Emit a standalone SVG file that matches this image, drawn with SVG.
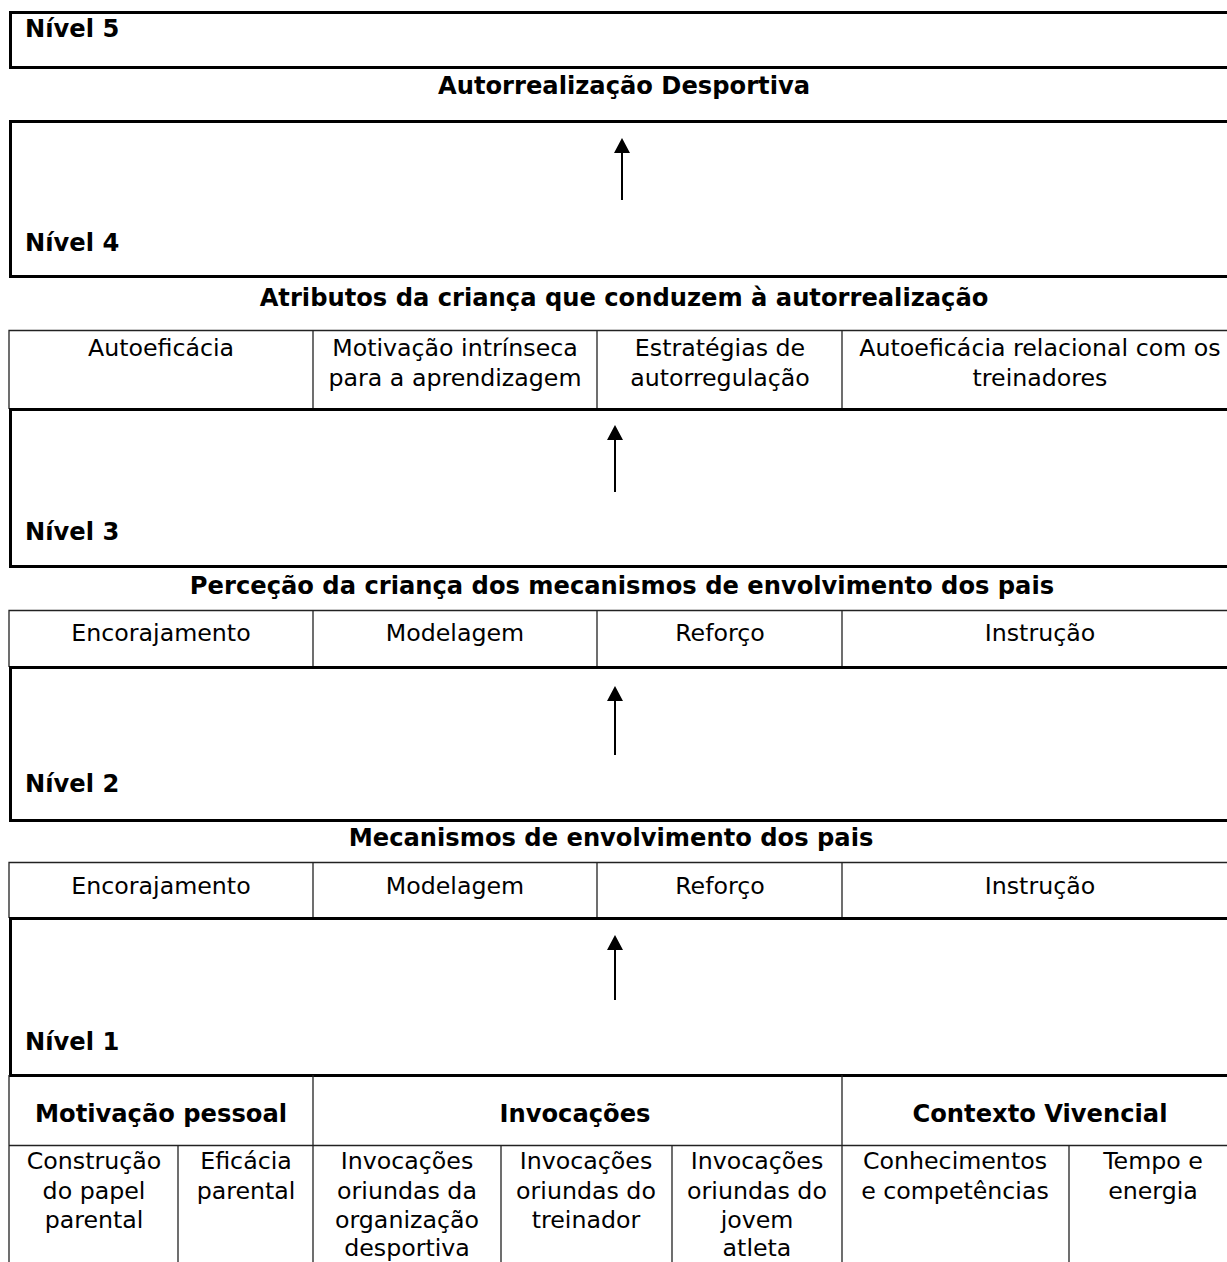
<svg xmlns="http://www.w3.org/2000/svg" width="1227" height="1262" viewBox="0 0 1227 1262">
<style>
text{font-family:"DejaVu Sans","Liberation Sans",sans-serif;font-size:23.7px;fill:#000}
.b{font-weight:bold;font-size:24.2px}
.c{text-anchor:middle}
.thick{fill:none;stroke:#000;stroke-width:3}
.thin{fill:none;stroke:#222;stroke-width:1.3}
.arrow{stroke:#000;stroke-width:2;fill:none;marker-end:url(#ah)}
</style>
<defs>
<marker id="ah" markerUnits="userSpaceOnUse" markerWidth="16" markerHeight="16" refX="5" refY="8" orient="auto" viewBox="0 0 16 16">
<path d="M0,0 L15,8 L0,16 Z" fill="#000"/>
</marker>
</defs>
<rect width="1227" height="1262" fill="#fff"/>

<g id="level5">
<path class="thick" d="M1240,12.5 H10.5 V67.5 H1240"/>
<text class="b" x="25" y="37">Nível 5</text>
</g>
<g id="title5"><text class="b c" x="624" y="94">Autorrealização Desportiva</text></g>

<g id="level4">
<path class="thick" d="M1240,121.5 H10.5 V276.5 H1240"/>
<text class="b" x="25" y="251">Nível 4</text>
</g>
<g id="title4"><text class="b c" x="624" y="306">Atributos da criança que conduzem à autorrealização</text></g>

<g id="table4">
<path class="thin" d="M9,409 V330.5 H1240 M313,330 V409 M597,330 V409 M842,330 V409"/>
<text class="c" x="161" y="356">Autoeficácia</text>
<text class="c" x="455" y="356">Motivação intrínseca</text>
<text class="c" x="455" y="386">para a aprendizagem</text>
<text class="c" x="720" y="356">Estratégias de</text>
<text class="c" x="720" y="386">autorregulação</text>
<text class="c" x="1040" y="356">Autoeficácia relacional com os</text>
<text class="c" x="1040" y="386">treinadores</text>
</g>

<g id="level3">
<path class="thick" d="M1240,409.5 H10.5 V566.5 H1240"/>
<text class="b" x="25" y="540">Nível 3</text>
</g>
<g id="title3"><text class="b c" x="622" y="594">Perceção da criança dos mecanismos de envolvimento dos pais</text></g>

<g id="table3">
<path class="thin" d="M9,667 V610.5 H1240 M313,610 V667 M597,610 V667 M842,610 V667"/>
<text class="c" x="161" y="641">Encorajamento</text>
<text class="c" x="455" y="641">Modelagem</text>
<text class="c" x="720" y="641">Reforço</text>
<text class="c" x="1040" y="641">Instrução</text>
</g>

<g id="level2">
<path class="thick" d="M1240,667.5 H10.5 V820.5 H1240"/>
<text class="b" x="25" y="792">Nível 2</text>
</g>
<g id="title2"><text class="b c" x="611" y="846">Mecanismos de envolvimento dos pais</text></g>

<g id="table2">
<path class="thin" d="M9,918 V862.5 H1240 M313,862 V918 M597,862 V918 M842,862 V918"/>
<text class="c" x="161" y="894">Encorajamento</text>
<text class="c" x="455" y="894">Modelagem</text>
<text class="c" x="720" y="894">Reforço</text>
<text class="c" x="1040" y="894">Instrução</text>
</g>

<g id="level1">
<path class="thick" d="M1240,918.5 H10.5 V1075.5 H1240"/>
<text class="b" x="25" y="1050">Nível 1</text>
</g>

<g id="table1">
<path class="thin" d="M9,1075 V1262 M313,1075 V1262 M842,1075 V1262 M9,1145.5 H1240 M178,1145 V1262 M501,1145 V1262 M672,1145 V1262 M1069,1145 V1262"/>
<text class="b c" x="161" y="1122">Motivação pessoal</text>
<text class="b c" x="575" y="1122">Invocações</text>
<text class="b c" x="1040" y="1122">Contexto Vivencial</text>
<text class="c" x="94" y="1169">Construção</text>
<text class="c" x="94" y="1198.5">do papel</text>
<text class="c" x="94" y="1228">parental</text>
<text class="c" x="246" y="1169">Eficácia</text>
<text class="c" x="246" y="1198.5">parental</text>
<text class="c" x="407" y="1169">Invocações</text>
<text class="c" x="407" y="1198.5">oriundas da</text>
<text class="c" x="407" y="1228">organização</text>
<text class="c" x="407" y="1256">desportiva</text>
<text class="c" x="586" y="1169">Invocações</text>
<text class="c" x="586" y="1198.5">oriundas do</text>
<text class="c" x="586" y="1228">treinador</text>
<text class="c" x="757" y="1169">Invocações</text>
<text class="c" x="757" y="1198.5">oriundas do</text>
<text class="c" x="757" y="1228">jovem</text>
<text class="c" x="757" y="1256">atleta</text>
<text class="c" x="955" y="1169">Conhecimentos</text>
<text class="c" x="955" y="1198.5">e competências</text>
<text class="c" x="1153" y="1169">Tempo e</text>
<text class="c" x="1153" y="1198.5">energia</text>
</g>

<g id="connectors">
<line class="arrow" x1="622" y1="200" x2="622" y2="148"/>
<line class="arrow" x1="615" y1="492" x2="615" y2="435"/>
<line class="arrow" x1="615" y1="755" x2="615" y2="696"/>
<line class="arrow" x1="615" y1="1000" x2="615" y2="945"/>
</g>
</svg>
